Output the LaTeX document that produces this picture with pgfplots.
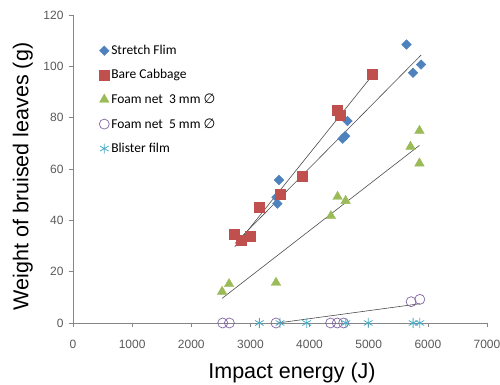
\documentclass[border=0pt]{standalone}
\usepackage{fontspec}
\setmainfont{Liberation Sans}
\newfontfamily\legfont{Carlito}
\newfontfamily\symfont{DejaVu Sans}
\usepackage{pgfplots}
\pgfplotsset{compat=1.18}
\definecolor{cblue}{HTML}{4F81BD}
\definecolor{cred}{HTML}{C0504D}
\definecolor{cgreen}{HTML}{9BBB59}
\definecolor{cpurple}{HTML}{8064A2}
\definecolor{ccyan}{HTML}{4BACC6}
\definecolor{axgray}{HTML}{868686}
\definecolor{txtgray}{HTML}{595959}
\begin{document}
\begin{tikzpicture}
\begin{axis}[
  at={(0pt,0pt)}, anchor=south west,
  scale only axis, width=414pt, height=308pt,
  xmin=0, xmax=7000, ymin=0, ymax=120,
  xtick={0,1000,...,7000}, ytick={0,20,...,120},
  axis x line=bottom, axis y line=left,
  axis line style={-, draw=axgray, line width=0.6pt},
  tick style={draw=axgray, line width=0.6pt},
  tick align=outside, major tick length=4pt,
  x tick label style={font=\fontsize{12}{14}\selectfont, text=txtgray, yshift=-10pt},
  y tick label style={font=\fontsize{12}{14}\selectfont, text=txtgray, xshift=-2pt},
  /pgf/number format/assume math mode=true,
  /pgf/number format/set thousands separator={},
  xlabel={Impact energy (J)},
  ylabel={Weight of bruised leaves (g)},
  xlabel style={font=\fontsize{21.5}{24}\selectfont, at={(axis description cs:0.529,-0.163)}, anchor=center},
  ylabel style={font=\fontsize{21.5}{24}\selectfont, at={(axis description cs:-0.121,0.476)}, anchor=center},
  clip=false,
  legend style={draw=none, fill=none, at={(axis description cs:0.063,0.909)}, anchor=north west,
    font=\legfont\fontsize{13.5}{15}\selectfont, row sep=9.5pt, inner sep=0pt},
  legend cell align=left,
  legend image code/.code={\draw[#1] plot coordinates {(0pt,0pt)};},
]
\addplot[only marks, mark=square*, mark size=3.4pt, color=cblue, mark options={rotate=45}] coordinates {
(5640,108.5) (5750,97.5) (5886,100.7) (4640,78.7) (4558,71.8) (4602,72.8) (3483,55.7) (3455,46.5) (3440,49)
};
\addlegendentry{Stretch Flim}
\addplot[only marks, mark=square*, mark size=5pt, color=cred] coordinates {
(5065,97) (4467,83) (4513,81) (3875,57) (3500,50.3) (3151,45) (2723,34.7) (2838,32.3) (2993,33.9)
};
\addlegendentry{Bare Cabbage}
\addplot[only marks, mark=triangle*, mark size=5.5pt, color=cgreen] coordinates {
(5858,74.9) (5707,68.7) (5858,62.2) (4474,49.2) (4609,47.6) (4361,41.7) (3433,15.7) (2639,15.2) (2521,12.2)
};
\addlegendentry{Foam net\ \ 3 mm {\symfont ∅}}
\addplot[only marks, mark=o, mark size=5pt, color=cpurple, mark options={line width=0.7pt}] coordinates {
(5717,8.3) (5864,9.2) (2532,0) (2644,0) (3432,0) (4356,0) (4468,0) (4575,0)
};
\addlegendentry{Foam net\ \ 5 mm {\symfont ∅}}
\addplot[only marks, mark=asterisk, mark size=5pt, color=ccyan, mark options={line width=0.8pt}] coordinates {
(3151,0) (3500,0) (3951,0) (4614,0) (4991,0) (5751,0) (5864,0)
};
\addlegendentry{Blister film}
\addplot[forget plot, no marks, color=black!70, line width=0.6pt] coordinates {(2740,31) (5886,104.4)};
\addplot[forget plot, no marks, color=black!70, line width=0.6pt] coordinates {(2735,29.7) (5065,96.6)};
\addplot[forget plot, no marks, color=black!70, line width=0.6pt] coordinates {(2521,9.6) (5858,69.2)};
\addplot[forget plot, no marks, color=black!70, line width=0.6pt] coordinates {(3460,0) (5864,7.5)};
\end{axis}
\pgfresetboundingbox
\useasboundingbox (-73pt,-62pt) rectangle (427pt,323pt);
\end{tikzpicture}
\end{document}
